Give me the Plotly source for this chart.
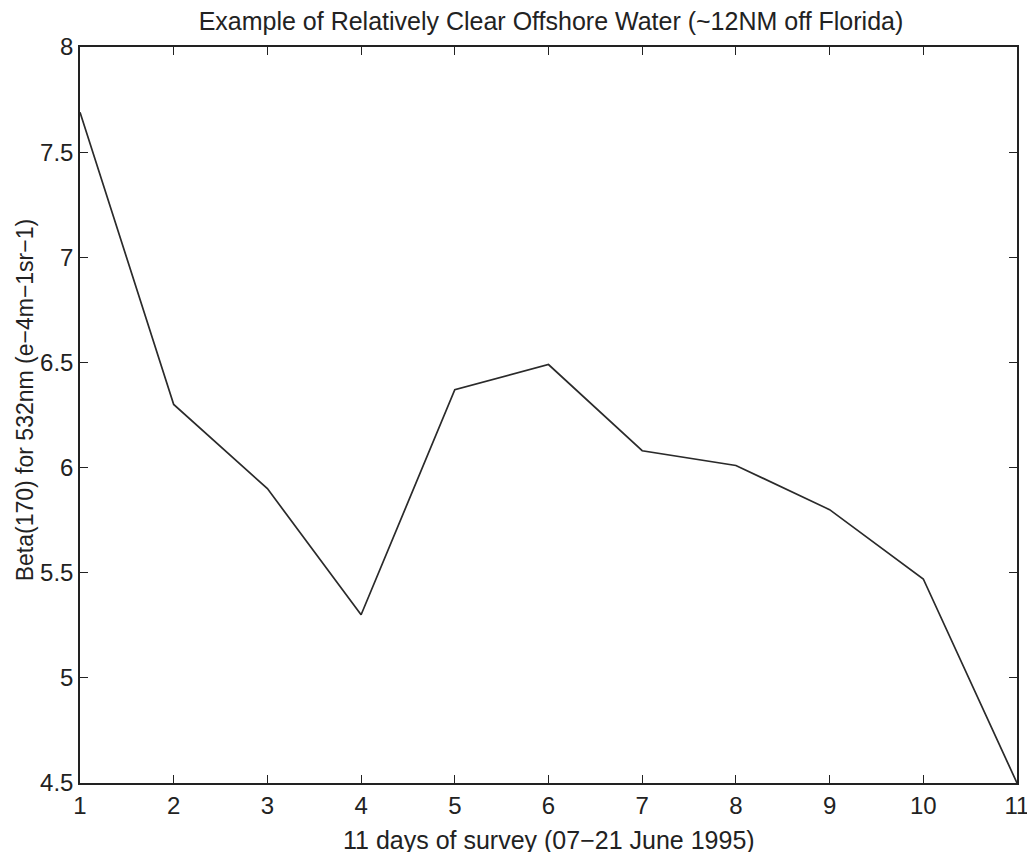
import plotly.graph_objects as go

# survey days and measured beta(170) values
days = [1, 2, 3, 4, 5, 6, 7, 8, 9, 10, 11]
beta = [7.69, 6.30, 5.90, 5.30, 6.37, 6.49, 6.08, 6.01, 5.80, 5.47, 4.50]

x_ticks = [1, 2, 3, 4, 5, 6, 7, 8, 9, 10, 11]
y_ticks = [4.5, 5, 5.5, 6, 6.5, 7, 7.5, 8]
y_tick_labels = ["4.5", "5", "5.5", "6", "6.5", "7", "7.5", "8"]

FAMILY = "Liberation Sans, Arial, sans-serif"
INK = "#222222"

fig = go.Figure(go.Scatter(x=days, y=beta, mode="lines",
                           line=dict(color="#2a2a2a", width=1.7),
                           showlegend=False))

axis_style = dict(showline=True, linecolor=INK, linewidth=1.5, mirror="ticks",
                  ticks="inside", ticklen=8, tickcolor=INK, tickwidth=1.2,
                  showgrid=False, zeroline=False, automargin=False,
                  tickfont=dict(family=FAMILY, size=24, color=INK))

# axis labels as annotations so they can sit where the original has them
fig.add_annotation(text="11 days of survey (07\u221221 June 1995)",
                   xref="paper", yref="paper", x=0.5, y=0,
                   xanchor="center", yanchor="middle", yshift=-57, showarrow=False,
                   font=dict(family=FAMILY, size=25, color=INK))
fig.add_annotation(text="Beta(170) for 532nm (e\u22124m\u22121sr\u22121)",
                   xref="paper", yref="paper", x=0, y=0.52, textangle=-90,
                   xanchor="center", yanchor="middle", xshift=-55, showarrow=False,
                   font=dict(family=FAMILY, size=23, color=INK))

# the page has an 8px body margin, so margins are offset by that
fig.update_layout(
    width=1035, height=852,
    margin=dict(l=72, r=26, t=39, b=77),
    paper_bgcolor="white", plot_bgcolor="white",
    font=dict(family=FAMILY, size=24, color=INK),
    title=dict(text="Example of Relatively Clear Offshore Water (~12NM off Florida)",
               x=0.5246, xanchor="center", y=0.985, yanchor="middle",
               font=dict(family=FAMILY, size=25, color=INK)),
    xaxis=dict(range=[1, 11], tickvals=x_ticks, **axis_style),
    yaxis=dict(range=[4.5, 8], tickvals=y_ticks, ticktext=y_tick_labels, **axis_style),
)

fig.write_html("out.html")
